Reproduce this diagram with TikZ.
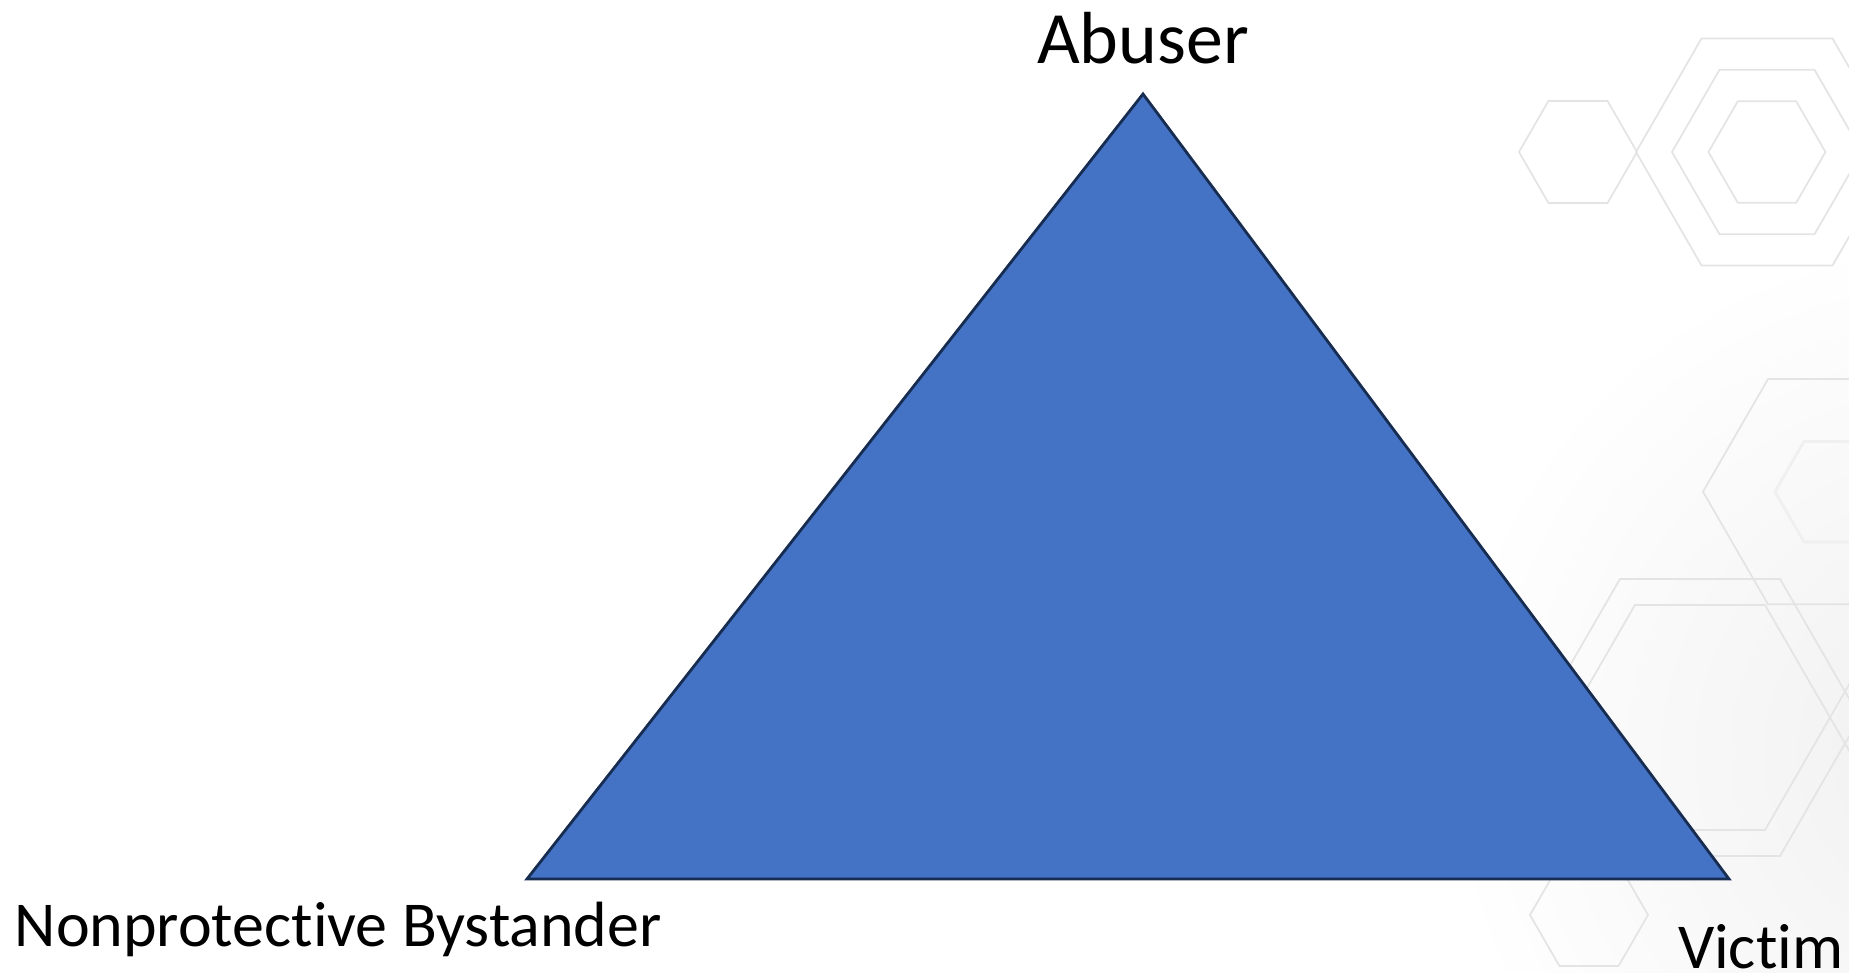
\documentclass[tikz,border=0pt]{standalone}
\usepackage{fontspec}
\setmainfont[Ligatures=NoCommon]{Carlito}
\usepackage{tikz}
\usetikzlibrary{positioning}

\definecolor{triblue}{RGB}{68,114,196}
\definecolor{triedge}{RGB}{23,44,81}
\definecolor{hexgray}{RGB}{228,228,228}
\definecolor{hexfaint}{RGB}{240,240,240}

\tikzset{
  tri/.style={fill=triblue, draw=triedge, line width=0.8pt, line join=miter},
  hexline/.style={draw=hexgray, line width=0.5pt},
  hexsoft/.style={draw=hexfaint, line width=0.8pt},
  toplabel/.style={inner sep=0pt, font=\fontsize{21}{25}\selectfont},
  rolelabel/.style={inner sep=0pt, font=\fontsize{18.2}{21}\selectfont},
}

\begin{document}
\begin{tikzpicture}
	% Page and background hexagons:
	\useasboundingbox (0, 0) rectangle (18.49, 9.73);
	\clip (0, 0) rectangle (18.49, 9.73);
	\shade[inner color=black!6, outer color=white] (19.6, 2.2) circle (5.2);
	\foreach \cx/\cy/\r in {15.78/8.21/0.59, 17.67/8.21/1.31, 17.67/8.21/0.95, 17.67/8.21/0.585,
	                        18.33/4.813/1.30, 17.00/2.555/1.30, 17.00/2.555/1.60,
	                        19.60/2.555/1.30, 15.89/0.58/0.59}
		\draw[hexline] (\cx, \cy) +(0:\r) -- +(60:\r) -- +(120:\r) -- +(180:\r)
			-- +(240:\r) -- +(300:\r) -- cycle;
	\draw[hexsoft] (18.33, 4.813) +(0:0.58) -- +(60:0.58) -- +(120:0.58) -- +(180:0.58)
		-- +(240:0.58) -- +(300:0.58) -- cycle;
	% Triangle:
	\coordinate (apex) at (11.43, 8.79);
	\coordinate (corner left) at (5.27, 0.94);
	\coordinate (corner right) at (17.29, 0.94);
	\draw[tri] (apex) -- (corner right) -- (corner left) -- cycle;
	% Labels:
	\node[toplabel, anchor=base] (abuser) at (11.43, 9.09) {Abuser};
	\node[rolelabel, anchor=base west] (bystander) at (0.14, 0.26) {Nonprotective Bystander};
	\node[rolelabel, anchor=base east] (victim) at (18.44, 0.04) {Victim};
\end{tikzpicture}
\end{document}
